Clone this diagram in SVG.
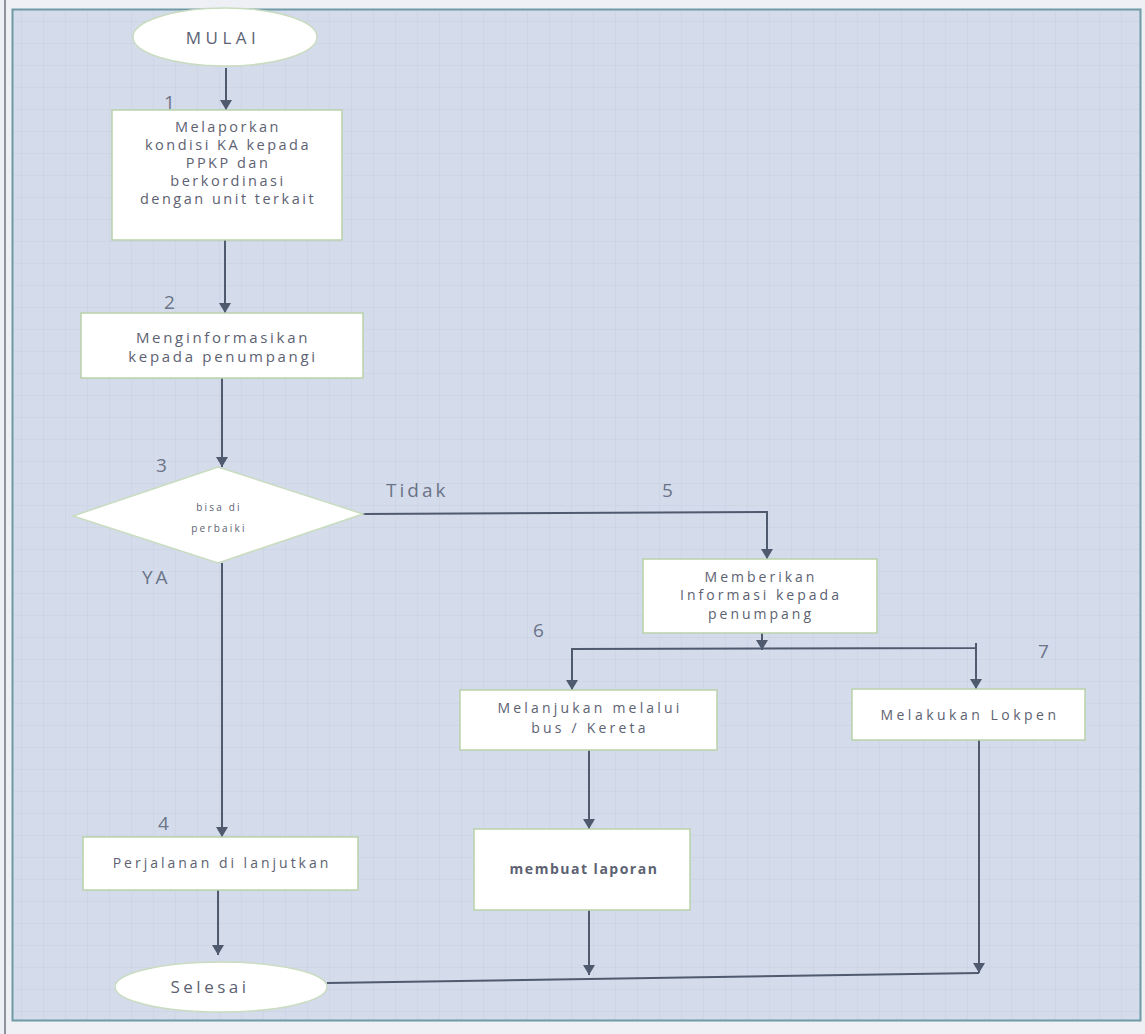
<svg xmlns="http://www.w3.org/2000/svg" width="1145" height="1034" viewBox="0 0 1145 1034">
<defs>
<pattern id="grid" width="22" height="22" patternUnits="userSpaceOnUse"><path d="M22 0V22H0" fill="none" stroke="#c8d0e2" stroke-width="1"/></pattern>
<marker id="ah" viewBox="0 0 10 12" refX="10" refY="6" markerWidth="10" markerHeight="12" markerUnits="userSpaceOnUse" orient="auto"><path d="M0 0L10 6L0 12Z" fill="#4f5a6f"/></marker>
</defs>
<style>
.box{fill:#ffffff;stroke:#b9d2aa;stroke-width:1.5}
.t{font-family:"Open Sans","DejaVu Sans",sans-serif;font-size:14.5px;fill:#5d6272;text-anchor:middle;letter-spacing:2.5px}
.n{font-family:"Open Sans","DejaVu Sans",sans-serif;font-size:19px;fill:#6b7488;letter-spacing:3px}
.c{fill:none;stroke:#4f5a6f;stroke-width:2}
</style>
<rect x="0" y="0" width="1145" height="1034" fill="#eef0f5"/>
<rect x="12" y="9" width="1129" height="1011" fill="#d4dbea"/>
<rect x="12" y="9" width="1129" height="1011" fill="url(#grid)"/>
<line x1="5" y1="0" x2="5" y2="1034" stroke="#6f7480" stroke-width="1.5"/>
<rect x="12.5" y="9.5" width="1128" height="1011" fill="none" stroke="#6f9aa6" stroke-width="2"/>

<g id="connectors">
<line class="c" x1="226" y1="68" x2="226" y2="110" marker-end="url(#ah)"/>
<line class="c" x1="225" y1="240" x2="225" y2="313" marker-end="url(#ah)"/>
<line class="c" x1="222" y1="378" x2="222" y2="467" marker-end="url(#ah)"/>
<polyline class="c" points="363,514 767,512 767,559" marker-end="url(#ah)"/>
<line class="c" x1="222" y1="563" x2="222" y2="837" marker-end="url(#ah)"/>
<line class="c" x1="762" y1="633" x2="762" y2="650" marker-end="url(#ah)"/>
<polyline class="c" points="572,697 572,649 976,648 976,643"/>
<line class="c" x1="572" y1="660" x2="572" y2="690" marker-end="url(#ah)"/>
<line class="c" x1="976" y1="648" x2="976" y2="689" marker-end="url(#ah)"/>
<line class="c" x1="589" y1="750" x2="589" y2="829" marker-end="url(#ah)"/>
<line class="c" x1="218" y1="890" x2="218" y2="955" marker-end="url(#ah)"/>
<line class="c" x1="589" y1="910" x2="589" y2="975" marker-end="url(#ah)"/>
<line class="c" x1="979" y1="740" x2="979" y2="973" marker-end="url(#ah)"/>
<line class="c" x1="327" y1="983" x2="979" y2="973"/>
</g>

<g id="label-1"><text class="n" x="164" y="109">1</text></g>
<g id="label-2"><text class="n" x="164" y="309">2</text></g>
<g id="label-3"><text class="n" x="156" y="472">3</text></g>
<g id="label-4"><text class="n" x="158" y="830">4</text></g>
<g id="label-5"><text class="n" x="662" y="497">5</text></g>
<g id="label-6"><text class="n" x="533" y="637">6</text></g>
<g id="label-7"><text class="n" x="1038" y="658">7</text></g>
<g id="label-tidak"><text class="n" x="386" y="497">Tidak</text></g>
<g id="label-ya"><text class="n" x="142" y="584">YA</text></g>

<g id="mulai">
<ellipse cx="225" cy="37" rx="92" ry="29" fill="#ffffff" stroke="#c9dcc0" stroke-width="1.5"/>
<text class="t" x="223" y="44" style="font-size:17px;letter-spacing:4.5px">MULAI</text>
</g>

<g id="step1">
<rect class="box" x="112" y="110" width="230" height="130"/>
<text class="t" x="228" y="132">Melaporkan</text>
<text class="t" x="228" y="150">kondisi KA kepada</text>
<text class="t" x="228" y="168">PPKP dan</text>
<text class="t" x="228" y="186">berkordinasi</text>
<text class="t" x="228" y="204">dengan unit terkait</text>
</g>

<g id="step2">
<rect class="box" x="81" y="313" width="282" height="65"/>
<text class="t" x="223" y="343" style="font-size:15px;letter-spacing:2.7px">Menginformasikan</text>
<text class="t" x="223" y="362" style="font-size:15px;letter-spacing:2.7px">kepada penumpangi</text>
</g>

<g id="decision3">
<polygon points="218,467 363,514 218,563 73,516" fill="#ffffff" stroke="#c9dcc0" stroke-width="1.5"/>
<text class="t" x="219" y="511" style="font-size:10px;letter-spacing:2.2px">bisa di</text>
<text class="t" x="219" y="532" style="font-size:10px;letter-spacing:2.2px">perbaiki</text>
</g>

<g id="step4">
<rect class="box" x="83" y="837" width="275" height="53"/>
<text class="t" x="222" y="868" style="font-size:14px;letter-spacing:3px">Perjalanan di lanjutkan</text>
</g>

<g id="step5">
<rect class="box" x="643" y="559" width="234" height="74"/>
<text class="t" x="761" y="582" style="font-size:14px;letter-spacing:3px">Memberikan</text>
<text class="t" x="761" y="600" style="font-size:14px;letter-spacing:3px">Informasi kepada</text>
<text class="t" x="761" y="619" style="font-size:14px;letter-spacing:3px">penumpang</text>
</g>

<g id="step6">
<rect class="box" x="460" y="690" width="257" height="60"/>
<text class="t" x="590" y="713" style="font-size:14px;letter-spacing:3.2px">Melanjukan melalui</text>
<text class="t" x="590" y="733" style="font-size:14px;letter-spacing:3.2px">bus / Kereta</text>
</g>

<g id="step7">
<rect class="box" x="852" y="689" width="233" height="51"/>
<text class="t" x="970" y="720" style="font-size:14px;letter-spacing:3.5px">Melakukan Lokpen</text>
</g>

<g id="step8">
<rect class="box" x="474" y="829" width="216" height="81"/>
<text class="t" x="584" y="874" style="font-size:14px;font-weight:bold;letter-spacing:1.5px">membuat laporan</text>
</g>

<g id="selesai">
<ellipse cx="221" cy="987" rx="106" ry="25" fill="#ffffff" stroke="#c9dcc0" stroke-width="1.5"/>
<text class="t" x="210" y="993" style="font-size:17px;letter-spacing:3.5px">Selesai</text>
</g>
</svg>
